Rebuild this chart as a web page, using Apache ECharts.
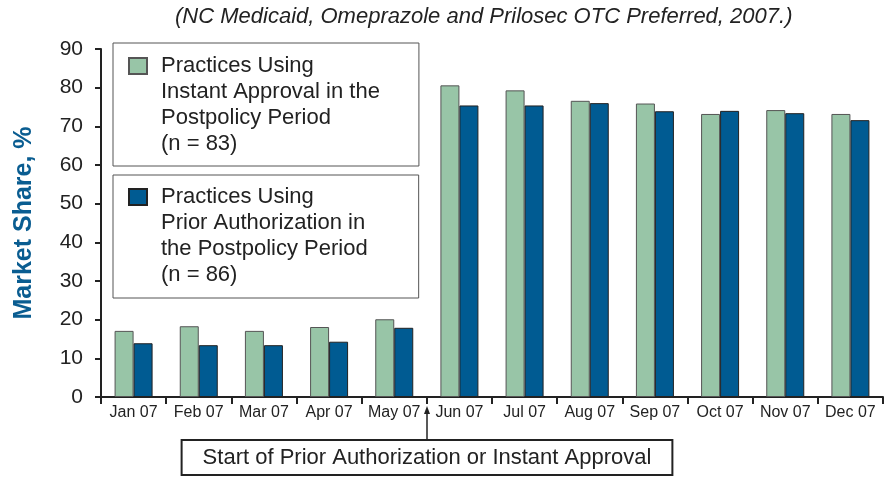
<!DOCTYPE html>
<html>
<head>
<meta charset="utf-8">
<script src="https://cdn.jsdelivr.net/npm/echarts@6/dist/echarts.min.js"></script>
<style>
  html, body { margin: 0; padding: 0; background: #fff; }
  #chart { width: 889px; height: 477px; }
</style>
</head>
<body>
<div id="chart"></div>
<script>
// values
const categories = ['Jan 07', 'Feb 07', 'Mar 07', 'Apr 07', 'May 07', 'Jun 07',
  'Jul 07', 'Aug 07', 'Sep 07', 'Oct 07', 'Nov 07', 'Dec 07'];
const instantApproval = [17.1, 18.3, 17.1, 18.1, 20.1, 80.6, 79.3, 76.6, 75.9, 73.2, 74.2, 73.2];
const priorAuthorization = [13.9, 13.4, 13.4, 14.3, 17.9, 75.4, 75.4, 76.0, 73.9, 74.0, 73.4, 71.6];
const seriesNames = ['Instant Approval', 'Prior Authorization'];
const legendLabels = [
  'Practices Using\nInstant Approval in the\nPostpolicy Period\n(n = 83)',
  'Practices Using\nPrior Authorization in\nthe Postpolicy Period\n(n = 86)'
];
const yTicks = { min: 0, max: 90, interval: 10 };
const titleText = '(NC Medicaid, Omeprazole and Prilosec OTC Preferred, 2007.)';
const noteText = 'Start of Prior Authorization or Instant Approval';
const noteCategory = 'Jun 07';

const FONT = 'Liberation Sans, Arial, sans-serif';
const GREEN = '#98c5a7';
const BLUE = '#005b92';

// square at the top, lone moveTo points stretch the icon box to the 4 text lines
const ICON = 'path://M0,0M27,104M0,5h18v16h-18z';

const chart = echarts.init(document.getElementById('chart'));

const legendBase = {
  orient: 'vertical',
  left: 113,
  icon: ICON,
  itemWidth: 27,
  itemHeight: 104,
  borderColor: '#555',
  borderWidth: 1,
  selectedMode: false,
  formatter: name => legendLabels[seriesNames.indexOf(name)],
  textStyle: { fontFamily: FONT, fontSize: 22, lineHeight: 26, color: '#222' }
};

const option = {
  animation: false,
  title: {
    text: titleText,
    left: 175,
    top: 6,
    padding: 0,
    textStyle: { fontFamily: FONT, fontSize: 22, fontStyle: 'italic', fontWeight: 'normal', color: '#222' }
  },
  legend: [
    Object.assign({}, legendBase, { top: 43, padding: [9, 39, 8, 15], data: [seriesNames[0]] }),
    Object.assign({}, legendBase, { top: 175, padding: [8, 51, 9, 15], data: [seriesNames[1]] })
  ],
  grid: { left: 101, right: 6, top: 49, bottom: 80 },
  xAxis: {
    type: 'category',
    data: categories,
    axisLine: { lineStyle: { color: '#222', width: 2 } },
    axisTick: { show: true, interval: 0, length: 7, lineStyle: { color: '#222', width: 2 } },
    axisLabel: { interval: 0, fontFamily: FONT, fontSize: 16, color: '#222', margin: 8 }
  },
  yAxis: {
    type: 'value',
    min: yTicks.min,
    max: yTicks.max,
    interval: yTicks.interval,
    name: 'Market Share, %',
    nameLocation: 'middle',
    nameRotate: 90,
    nameGap: 64,
    nameTextStyle: { fontFamily: FONT, fontSize: 25, fontWeight: 'bold', color: '#0a5d91' },
    splitLine: { show: false },
    axisLine: { show: true, lineStyle: { color: '#222', width: 2 } },
    axisTick: { show: true, length: 6, lineStyle: { color: '#222', width: 2 } },
    axisLabel: { fontFamily: FONT, fontSize: 21, color: '#222', margin: 18 }
  },
  series: [
    {
      name: seriesNames[0],
      type: 'bar',
      data: instantApproval,
      barWidth: 19,
      barGap: '0%',
      itemStyle: { color: GREEN, borderColor: '#555', borderWidth: 1 }
    },
    {
      name: seriesNames[1],
      type: 'bar',
      data: priorAuthorization,
      barWidth: 19,
      itemStyle: { color: BLUE, borderColor: '#222', borderWidth: 1 }
    }
  ]
};

chart.setOption(option);

// note box with arrow pointing at the start of the Jun band
const band = chart.convertToPixel({ xAxisIndex: 0 }, categories[1]) - chart.convertToPixel({ xAxisIndex: 0 }, categories[0]);
const arrowX = Math.round(chart.convertToPixel({ xAxisIndex: 0 }, noteCategory) - band / 2);
const axisY = chart.convertToPixel({ yAxisIndex: 0 }, 0);
const boxTop = 441;
chart.setOption({
  graphic: [
    {
      type: 'line',
      shape: { x1: arrowX, y1: boxTop, x2: arrowX, y2: axisY + 12 },
      style: { stroke: '#222', lineWidth: 1.5 }
    },
    {
      type: 'polygon',
      shape: { points: [[arrowX, axisY + 9], [arrowX - 3, axisY + 17], [arrowX + 3, axisY + 17]] },
      style: { fill: '#222' }
    },
    {
      type: 'text',
      x: arrowX,
      y: boxTop,
      style: {
        text: noteText,
        align: 'center',
        verticalAlign: 'top',
        fontFamily: FONT,
        fontSize: 22,
        fill: '#222',
        padding: [6, 20, 5, 20],
        borderColor: '#222',
        borderWidth: 2,
        backgroundColor: '#fff'
      }
    }
  ]
});
</script>
</body>
</html>
